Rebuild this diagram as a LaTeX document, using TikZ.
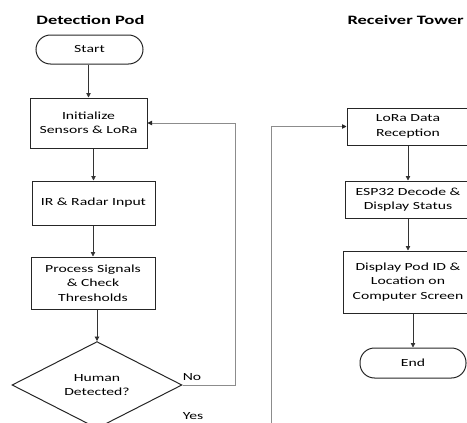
\documentclass[tikz,border=0pt]{standalone}
\usepackage{fontspec}
\setmainfont[FakeStretch=1.44]{Carlito}
\usetikzlibrary{arrows.meta,shapes.geometric}

\begin{document}
\begin{tikzpicture}[x=1pt,y=-1pt,>={Triangle[length=4.5pt,width=4.5pt]},
  box/.style={draw=black!85,line width=1pt,align=center,inner sep=2pt,font=\fontsize{10.9}{14.4}\selectfont},
  term/.style={box,rounded corners=14.5pt},
  choice/.style={box,diamond,inner sep=0pt},
  flow/.style={->,line width=.8pt,draw=black!80},
  back/.style={-{Triangle[length=4.5pt,width=4.5pt,color=black!85]},line width=.9pt,draw=black!45},
  title/.style={font=\fontsize{12.8}{15}\selectfont\bfseries},
  smallnote/.style={font=\fontsize{10.9}{13}\selectfont}]
\useasboundingbox (0,0) rectangle (467,423);
\clip (0,0) rectangle (467,423);
\node[title] (podtitle) at (90.5,20) {Detection Pod};
\node[title,anchor=west] (towertitle) at (344,20) {Receiver Tower};
\node[term,minimum width=107pt,minimum height=29pt] (start) at (89.5,49.5) {Start};
\node[box,minimum width=117pt,minimum height=50pt] (init) at (88.5,123) {Initialize\\Sensors \& LoRa};
\node[box,minimum width=123pt,minimum height=44pt] (ir) at (93.5,203) {IR \& Radar Input};
\node[box,minimum width=124pt,minimum height=52pt] (proc) at (93,283) {Process Signals\\\& Check\\Thresholds};
\node[choice,minimum width=170pt,minimum height=84pt] (dec) at (97,385) {Human\\Detected?};
\node[smallnote] (no) at (192,377) {No};
\node[smallnote] (yes) at (193,416) {Yes};
\node[box,minimum width=122pt,minimum height=37pt] (lora) at (408,126.5) {LoRa Data\\Reception};
\node[box,minimum width=126pt,minimum height=37pt] (esp) at (408,199.5) {ESP32 Decode \&\\Display Status};
\node[box,minimum width=130pt,minimum height=62pt] (disp) at (408,282) {Display Pod ID \&\\Location on\\Computer Screen};
\node[term,minimum width=106pt,minimum height=30pt] (end) at (413,363) {End};
\coordinate (linkin) at (271,440);
\draw[flow] (start.south -| init.north)--(init.north);
\draw[flow] (init.south -| ir.north)--(ir.north);
\draw[flow] (ir.south -| proc.north)--(proc.north);
\draw[flow] (proc.south -| dec.north)--(dec.north);
\draw[back] (dec.east)--++(53,0)|-(init.east);
\draw[back] (linkin)|-(lora.west);
\draw[flow] (lora.south -| esp.north)--(esp.north);
\draw[flow] (esp.south -| disp.north)--(disp.north);
\draw[flow] (disp.south -| end.north)--(end.north);
\end{tikzpicture}
\end{document}
